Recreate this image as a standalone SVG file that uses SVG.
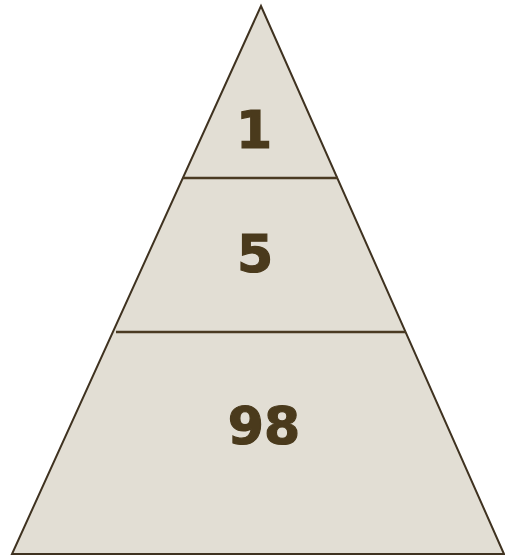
<svg xmlns="http://www.w3.org/2000/svg" width="505" height="556" viewBox="0 0 505 556">
<style>
.shape{fill:#e2ded4;stroke:#3f3220;stroke-width:2}
.div{stroke:#4a3a22;stroke-width:2.5}
.lbl{font-family:"DejaVu Sans",Verdana,sans-serif;font-weight:bold;font-size:52px;fill:#4a3a1c;stroke:#4a3a1c;stroke-width:1.2;text-anchor:middle}
</style>
<g id="pyramid">
<polygon class="shape" points="261,6 12,554 504,554"/>
</g>
<g id="connectors">
<line class="div" x1="183" y1="178" x2="338" y2="178"/>
<line class="div" x1="116" y1="332" x2="406" y2="332"/>
</g>
<g id="tier1"><text class="lbl" x="254" y="148">1</text></g>
<g id="tier2"><text class="lbl" x="255" y="272">5</text></g>
<g id="tier3"><text class="lbl" x="264" y="444">98</text></g>
</svg>
